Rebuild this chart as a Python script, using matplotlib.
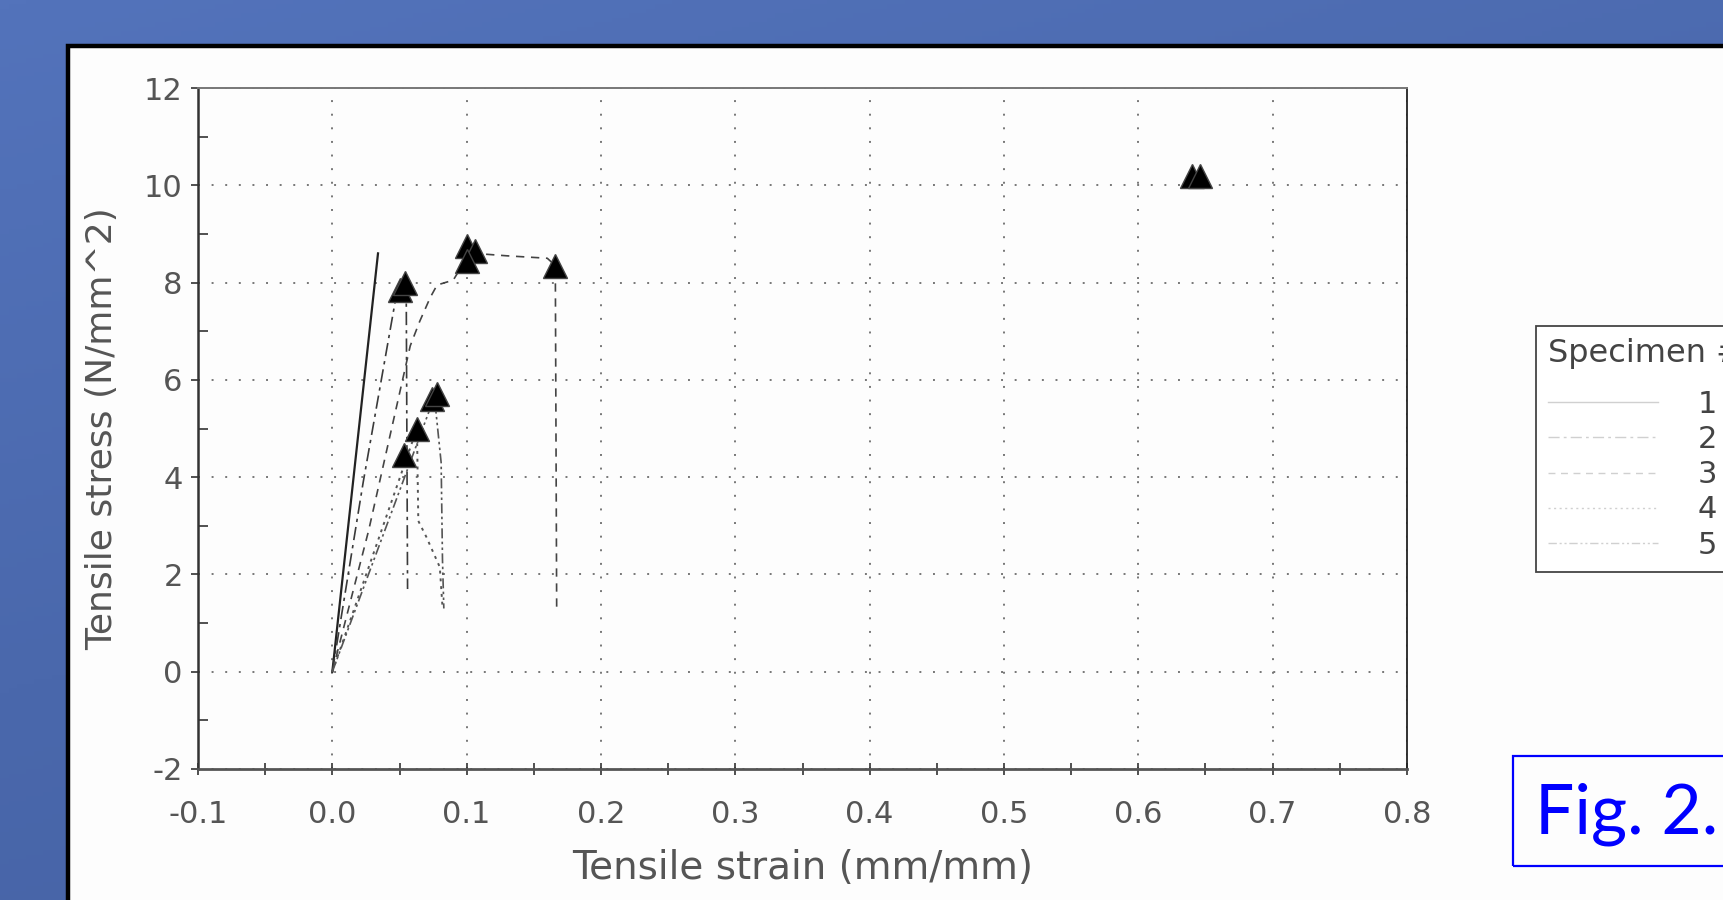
import numpy as np
import matplotlib.pyplot as plt
from matplotlib.patches import Rectangle
from matplotlib.lines import Line2D
from matplotlib.colors import LinearSegmentedColormap

# curvas tensao x deformacao (strain em mm/mm, stress em N/mm^2)
strain_1 = [0.0, 0.034]
stress_1 = [0.0, 8.6]
strain_2 = [0.0, 0.023, 0.048, 0.052, 0.055, 0.056]
stress_2 = [0.0, 3.9, 7.8, 8.0, 7.9, 1.7]
strain_3 = [0.0, 0.027, 0.058, 0.065, 0.073, 0.078, 0.090, 0.100, 0.106, 0.130, 0.160, 0.166, 0.167]
stress_3 = [0.0, 2.9, 6.7, 7.2, 7.7, 7.95, 8.05, 8.5, 8.6, 8.55, 8.5, 8.35, 1.3]
strain_4 = [0.0, 0.063, 0.064, 0.070, 0.080, 0.082]
stress_4 = [0.0, 5.0, 3.1, 2.77, 2.15, 1.33]
strain_5 = [0.0, 0.076, 0.081, 0.082, 0.083]
stress_5 = [0.0, 5.65, 4.3, 2.3, 1.3]

# triangulos (ruptura / maximo)
tri_strain = [0.050, 0.054, 0.100, 0.106, 0.100, 0.166, 0.074, 0.078, 0.063, 0.053, 0.640, 0.646]
tri_stress = [7.85, 8.00, 8.75, 8.65, 8.45, 8.35, 5.60, 5.70, 5.00, 4.45, 10.2, 10.2]

specimens = ['1', '2', '3', '4', '5']
xticks = [-0.1, 0.0, 0.1, 0.2, 0.3, 0.4, 0.5, 0.6, 0.7, 0.8]
xtick_labels = ['-0.1', '0.0', '0.1', '0.2', '0.3', '0.4', '0.5', '0.6', '0.7', '0.8']
yticks = [-2, 0, 2, 4, 6, 8, 10, 12]
ytick_labels = ['-2', '0', '2', '4', '6', '8', '10', '12']

W, H = 1723, 900
fig = plt.figure(figsize=(W / 100, H / 100), dpi=100)

# fundo azul do slide (gradiente diagonal)
bg = fig.add_axes([0, 0, 1, 1], zorder=0)
yy, xx = np.mgrid[0:1:200j, 0:1:200j]
grad = 0.65 * yy + 0.35 * xx
cmap = LinearSegmentedColormap.from_list('slide', ['#5373BB', '#4A68AC', '#4460A2'])
bg.imshow(grad, aspect='auto', cmap=cmap, extent=[0, 1, 0, 1])
bg.set_axis_off()

# painel branco com borda preta
fig.patches.append(Rectangle((68 / W, -0.2), 1.2, 0.2 + 1 - 46 / H, transform=fig.transFigure,
                             facecolor='#FDFDFD', edgecolor='black', lw=3.2, zorder=0.5))

ax = fig.add_axes([198 / W, 1 - 769 / H, (1407 - 198) / W, (769 - 88) / H], zorder=1)
ax.set_facecolor('none')

styles = [('-', '#222222', 1.6),
          ((0, (8, 3, 2, 3)), '#3a3a3a', 1.2),
          ((0, (5, 4)), '#444444', 1.2),
          ((0, (1.5, 2.5)), '#555555', 1.4),
          ((0, (6, 2, 1.5, 2, 1.5, 2)), '#555555', 1.2)]
curves = [(strain_1, stress_1), (strain_2, stress_2), (strain_3, stress_3),
          (strain_4, stress_4), (strain_5, stress_5)]
for (x, y), (ls, c, lw) in zip(curves, styles):
    ax.plot(x, y, linestyle=ls, color=c, lw=lw, zorder=3)

ax.plot(tri_strain, tri_stress, linestyle='none', marker='^', ms=17, color='black',
        mec='#444444', mew=1.0, zorder=4)

ax.set_xlim(-0.1, 0.8)
ax.set_ylim(-2, 12)
ax.set_xticks(xticks)
ax.set_xticklabels(xtick_labels)
ax.set_xticks(np.arange(-0.05, 0.8, 0.1), minor=True)
ax.set_yticks(yticks)
ax.set_yticklabels(ytick_labels)
ax.set_yticks(np.arange(-1, 12, 2), minor=True)

ax.tick_params(axis='x', which='both', direction='inout', length=9, width=1.2,
               color='#333333', labelsize=22, labelcolor='#555555', pad=18)
ax.tick_params(axis='y', which='major', direction='out', length=5, width=1.2,
               color='#333333', labelsize=22, labelcolor='#555555', pad=6)
ax.tick_params(axis='y', which='minor', direction='in', length=7, width=1.2, color='#333333')

ax.grid(True, which='major', linestyle=(0, (1, 6)), color='#777777', lw=1.4)

ax.spines['top'].set_color('#777777')
ax.spines['top'].set_linestyle((0, (4, 1)))
ax.spines['top'].set_linewidth(1.4)
ax.spines['right'].set_color('#222222')
ax.spines['right'].set_linewidth(1.3)
ax.spines['left'].set_color('#333333')
ax.spines['left'].set_linewidth(1.8)
ax.spines['bottom'].set_color('#555555')
ax.spines['bottom'].set_linewidth(2.0)

ax.set_xlabel('Tensile strain (mm/mm)', fontsize=28, color='#555555', labelpad=14)
ax.set_ylabel('Tensile stress (N/mm^2)', fontsize=26, color='#555555', labelpad=18)

# legenda (cortada pela borda direita, como no slide)
handles = [Line2D([], [], linestyle=ls, color='#d0d0d0', lw=1.0) for ls, c, lw in styles]
leg = ax.legend(handles, specimens, title='Specimen #', loc='upper left',
                bbox_to_anchor=(1536 / W, 1 - 326 / H), bbox_transform=fig.transFigure,
                alignment='left', fancybox=False, edgecolor='#444444', framealpha=1,
                fontsize=22, title_fontsize=23, handlelength=3.6, handletextpad=1.3,
                labelspacing=0.2, borderpad=0.4, borderaxespad=0)
leg._legend_box.sep = 15
leg.get_frame().set_linewidth(1.3)
for t in leg.get_texts():
    t.set_color('#444444')
leg.get_title().set_color('#444444')

# caixa "Fig. 2."
fig.patches.append(Rectangle((1513 / W, 1 - 866 / H), 0.2, 110 / H, transform=fig.transFigure,
                             facecolor='none', edgecolor='#0000FF', lw=1.6, zorder=2))
fig.text(1535 / W, 1 - 814 / H, 'Fig. 2.', fontsize=50, color='#0000FF',
         family=['Lato', 'DejaVu Sans'], ha='left', va='center', zorder=3)

fig.savefig('out.png', dpi=100)
